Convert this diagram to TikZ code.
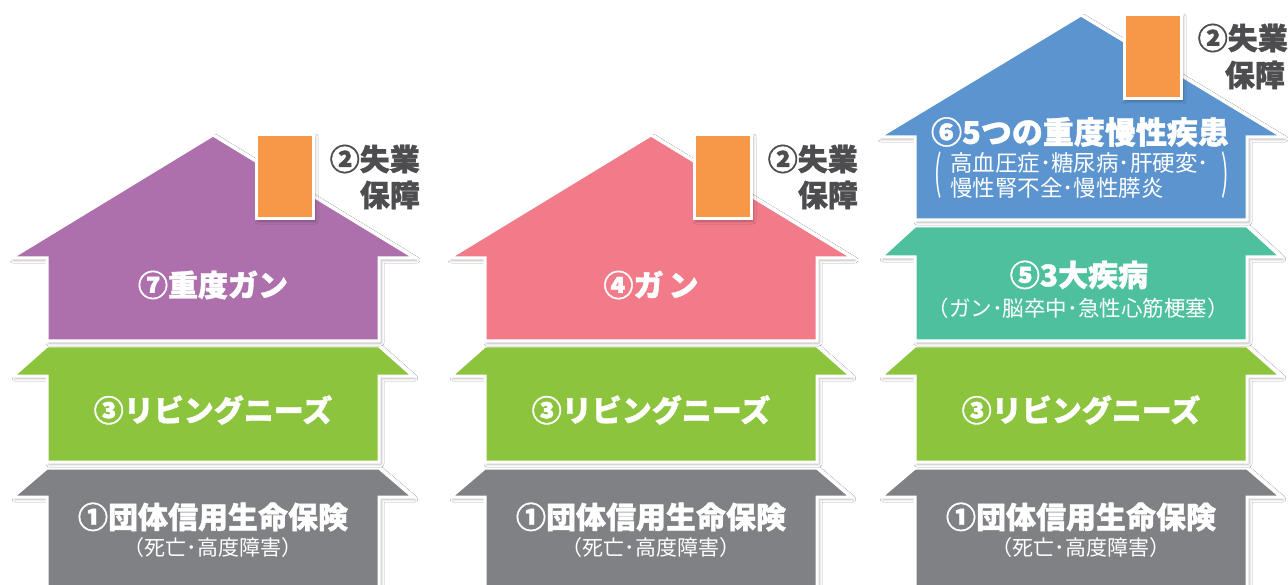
\documentclass[tikz,border=0pt]{standalone}
\usepackage{fontspec}
\usepackage{graphicx}
\setmainfont{Noto Sans CJK JP}[BoldFeatures={FakeBold=1.2}]
\usetikzlibrary{shadows.blur}
\definecolor{cpurple}{HTML}{AD70AC}
\definecolor{cpink}{HTML}{F17B88}
\definecolor{cblue}{HTML}{5B94CE}
\definecolor{cteal}{HTML}{4FC09E}
\definecolor{cgreen}{HTML}{8CC43E}
\definecolor{cgray}{HTML}{808184}
\definecolor{corange}{HTML}{F79848}
\definecolor{ctext}{HTML}{4D4D4F}
\tikzset{
 part/.style={draw=white, line width=3pt, line join=miter,
   blur shadow={shadow xshift=2pt, shadow yshift=-2pt, shadow blur steps=6, shadow blur radius=3pt, shadow opacity=30}},
 big/.style={text=white, font=\fontsize{30}{30}\selectfont\bfseries, inner sep=0pt},
 small/.style={text=white, font=\fontsize{21}{22}\selectfont, inner sep=0pt},
 side/.style={text=ctext, font=\fontsize{30}{34}\selectfont\bfseries, inner sep=0pt, anchor=east},
}
\newcommand\myroof[5]{%
 \path[part, fill=#1] (#2,#3) -- ({#2+202},#4) -- ({#2+166},#4) -- ({#2+166},#5) -- ({#2-166},#5) -- ({#2-166},#4) -- ({#2-202},#4) -- cycle;}
\newcommand\myband[5]{%
 \path[part, fill=#1] ({#2-166},#3) -- ({#2+166},#3) -- ({#2+200},#4) -- ({#2+166},#4) -- ({#2+166},#5) -- ({#2-166},#5) -- ({#2-166},#4) -- ({#2-200},#4) -- cycle;}
\newcommand\mychimney[3]{%
 \path[part, fill=corange] ({#1+43},#2) rectangle ({#1+100},#3);}
\begin{document}
\begin{tikzpicture}[x=1pt,y=-1pt]
\useasboundingbox (0,0) rectangle (1288,585);
\clip (0,0) rectangle (1288,585);
\fill[white] (0,0) rectangle (1288,585);
% house 1
\myband{cgray}{213}{468}{497}{600}
\myband{cgreen}{213}{346}{376}{462}
\myroof{cpurple}{213}{135}{258}{341}
\mychimney{213}{135}{219}
% house 2
\myband{cgray}{651}{468}{497}{600}
\myband{cgreen}{651}{346}{376}{462}
\myroof{cpink}{651}{135}{258}{341}
\mychimney{651}{135}{219}
% house 3
\myband{cgray}{1081}{468}{497}{600}
\myband{cgreen}{1081}{346}{376}{462}
\myband{cteal}{1081}{226}{257}{341}
\myroof{cblue}{1081}{15}{137}{220}
\mychimney{1081}{15}{99}
% texts house 1
\node[big] (a1) at (213,285) {⑦重度ガン};
\node[big] (a2) at (213,410) {③リビングニーズ};
\node[big] (a3) at (213,517) {①団体信用生命保険};
\node[small] (a4) at (213,548) {（死亡･高度障害）};
\node[side] (a5) at (420,159) {②失業};
\node[side] (a6) at (420,195) {保障};
% texts house 2
\node[big] (b1) at (651,285) {④ガ\hspace{5pt}ン};
\node[big] (b2) at (651,410) {③リビングニーズ};
\node[big] (b3) at (651,517) {①団体信用生命保険};
\node[small] (b4) at (651,548) {（死亡･高度障害）};
\node[side] (b5) at (858,159) {②失業};
\node[side] (b6) at (858,195) {保障};
% texts house 3
\node[side] (c5) at (1288,38) {②失業};
\node[side] (c6) at (1285,75) {保障};
\node[big, font=\fontsize{31}{31}\selectfont\bfseries] (c1) at (1080,132) {⑥5つの重度慢性疾患};
\node[small, anchor=west, font=\fontsize{22.5}{24}\selectfont] (c2) at (950,163) {高血圧症･糖尿病･肝硬変･};
\node[small, anchor=west, font=\fontsize{22.5}{24}\selectfont] (c3) at (950,188) {慢性腎不全･慢性膵炎};
\node[text=white, inner sep=0pt, font=\fontsize{22}{22}\selectfont] (lp) at (938,175) {\scalebox{1}[2.1]{(}};
\node[text=white, inner sep=0pt, font=\fontsize{22}{22}\selectfont] (rp) at (1225,175) {\scalebox{1}[2.1]{)}};
\node[big] (c7) at (1079,275) {⑤3大疾病};
\node[small, font=\fontsize{21.5}{22}\selectfont] (c8) at (1078,308) {（ガン･脳卒中･急性心筋梗塞）};
\node[big] (c9) at (1081,410) {③リビングニーズ};
\node[big] (c10) at (1081,517) {①団体信用生命保険};
\node[small] (c11) at (1081,548) {（死亡･高度障害）};
\end{tikzpicture}
\end{document}
